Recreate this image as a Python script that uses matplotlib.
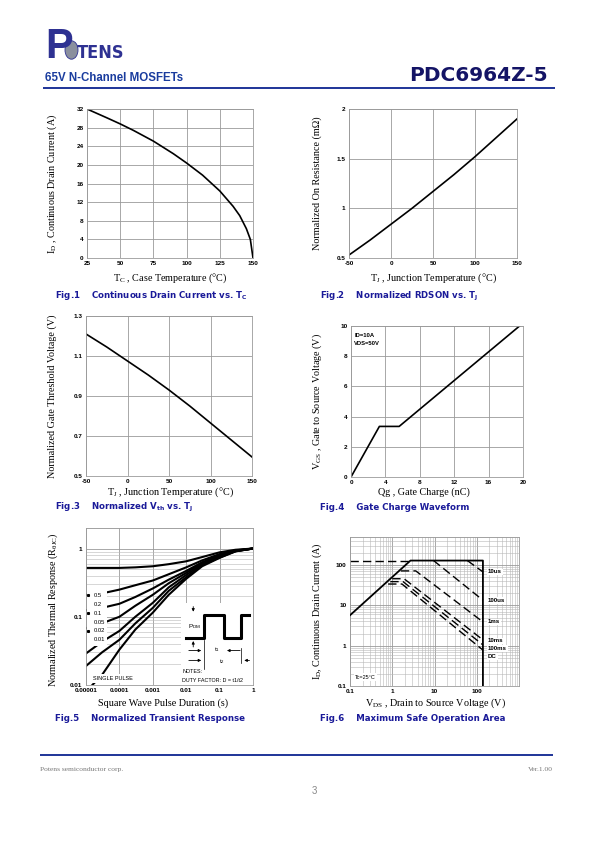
import matplotlib
matplotlib.use("Agg")
import matplotlib.pyplot as plt
from matplotlib.patches import Rectangle, Circle
from matplotlib.ticker import NullFormatter

W, H = 595, 842
NAVY = "#1c2a8c"
CAP = "#1a1a99"
GRID = "#9a9a9a"
SERIF = ["Liberation Serif", "DejaVu Serif"]
SANS = ["Liberation Sans", "DejaVu Sans"]
plt.rcParams["mathtext.default"] = "regular"

# Fig.1 continuous drain current vs case temperature
tc = [25, 40, 50, 60, 75, 90, 100, 112, 125, 135, 140, 145, 148, 150]
id_tc = [32, 30.1, 28.8, 27.4, 25.1, 22.4, 20.4, 17.8, 14.4, 11.1, 9.1, 6.3, 4.0, 0]

# Fig.2 normalized RDSON vs junction temperature
tj_r = [-50, -25, 0, 25, 50, 75, 100, 125, 150]
rdson = [0.53, 0.68, 0.84, 1.0, 1.17, 1.34, 1.52, 1.71, 1.9]

# Fig.3 normalized Vth vs junction temperature
tj_v = [-50, -25, 0, 25, 50, 75, 100, 125, 150]
vth = [1.21, 1.145, 1.075, 1.005, 0.93, 0.85, 0.765, 0.68, 0.595]

# Fig.4 gate charge waveform
qg = [0, 3.3, 5.6, 19.6]
vgs = [0, 3.35, 3.35, 10]

# Fig.5 normalized transient thermal response
t_pulse = [1e-5, 3e-5, 1e-4, 3e-4, 1e-3, 3e-3, 1e-2, 3e-2, 0.1, 0.3, 1]
zth = {
    "0.5": [0.52, 0.52, 0.52, 0.53, 0.55, 0.59, 0.65, 0.75, 0.88, 0.96, 1.0],
    "0.2": [0.21, 0.22, 0.25, 0.29, 0.34, 0.42, 0.53, 0.67, 0.83, 0.94, 1.0],
    "0.1": [0.125, 0.135, 0.155, 0.195, 0.26, 0.35, 0.47, 0.63, 0.80, 0.93, 1.0],
    "0.05": [0.068, 0.08, 0.10, 0.145, 0.21, 0.31, 0.44, 0.61, 0.78, 0.92, 1.0],
    "0.02": [0.029, 0.043, 0.062, 0.10, 0.16, 0.27, 0.41, 0.59, 0.76, 0.92, 1.0],
    "0.01": [0.019, 0.03, 0.046, 0.08, 0.135, 0.24, 0.38, 0.57, 0.74, 0.91, 1.0],
    "single": [0.008, 0.014, 0.033, 0.065, 0.115, 0.21, 0.36, 0.55, 0.73, 0.91, 1.0],
}
duty_labels = ["0.5", "0.2", "0.1", "0.05", "0.02", "0.01"]

# Fig.6 safe operating area
soa_limit_v = [0.1, 2.7, 140, 140]
soa_limit_i = [5.7, 130, 130, 0.1]
soa_dash_v = [0.1, 2.7]
soa_dash_i = [130, 130]
soa_pulses = {
    "10us": ([60, 140], [130, 68]),
    "100us": ([9.5, 140], [130, 13.5]),
    "1ms": ([1.6, 3.6, 140], [72, 72, 3.9]),
    "10ms": ([1.0, 1.9, 140], [46, 46, 1.4]),
    "100ms": ([0.9, 1.8, 140], [39, 39, 1.05]),
    "DC": ([0.8, 1.7, 140], [34, 34, 0.78]),
}
soa_label_y = {"10us": 68, "100us": 13.5, "1ms": 3.9, "10ms": 1.32, "100ms": 0.86, "DC": 0.53}

fig = plt.figure(figsize=(W / 100, H / 100), dpi=100)


def rect(l, t, r, b):
    return [l / W, 1 - b / H, (r - l) / W, (b - t) / H]


def ftext(x, y, s, **kw):
    return fig.text(x / W, 1 - y / H, s, **kw)


def style(ax, xt, yt, xl, yl, log=False):
    for sp in ax.spines.values():
        sp.set_color(GRID)
        sp.set_linewidth(0.6)
    ax.tick_params(length=0, pad=2.5)
    ax.set_xticks(xt)
    ax.set_yticks(yt)
    ax.set_xticklabels(xl, fontsize=4.6, fontweight="bold", family=SANS)
    ax.set_yticklabels(yl, fontsize=4.6, fontweight="bold", family=SANS)
    ax.grid(True, which="major", color=GRID, lw=0.6)
    if log:
        ax.tick_params(which="minor", length=0)
        ax.grid(True, which="minor", color="#b8b8b8", lw=0.4)
        ax.xaxis.set_minor_formatter(NullFormatter())
        ax.yaxis.set_minor_formatter(NullFormatter())
    ax.set_axisbelow(True)


def arrow(ax, x0, y0, x1, y1):
    ax.annotate("", xy=(x1, y1), xytext=(x0, y0),
                arrowprops=dict(arrowstyle="-|>", lw=0.6, color="black", mutation_scale=4))


# header
ftext(45, 58, "P", fontsize=30, fontweight="bold", color="#2e3192", family=SANS)
fig.patches.append(Circle((71.5 / W, 1 - 50 / H), 6.5 / W, transform=fig.transFigure,
                          facecolor="#8a8f9e", edgecolor="#2e3192", lw=0.6))
ftext(77, 58, "TENS", fontsize=13, fontweight="bold", color="#2e3192", family=["DejaVu Sans"],
      stretch="condensed")
ftext(45, 81, "65V N-Channel MOSFETs", fontsize=8.3, fontweight="bold", color="#1a3c9e", family=SANS)
ftext(548, 81, "PDC6964Z-5", fontsize=14.5, fontweight="bold", color="#141466", ha="right",
      family=["DejaVu Sans"])
fig.patches.append(Rectangle((43 / W, 1 - 89 / H), 512 / W, 2.5 / H, transform=fig.transFigure,
                             color="#24399a", lw=0))

# Fig.1
ax1 = fig.add_axes(rect(87, 109, 253, 258))
ax1.plot(tc, id_tc, color="black", lw=1.2)
ax1.set_xlim(25, 150)
ax1.set_ylim(0, 32)
style(ax1, range(25, 151, 25), range(0, 33, 4),
      [str(v) for v in range(25, 151, 25)], [str(v) for v in range(0, 33, 4)])
ftext(170, 281, "T$_C$ , Case Temperature (\u00b0C)", fontsize=7.3, family=SERIF, ha="center")
ftext(52, 184, "I$_D$ , Continuous Drain Current (A)", fontsize=7.3, family=SERIF,
      rotation=90, va="center", ha="center")
ftext(55, 298, "Fig.1    Continuous Drain Current vs. T$_C$", fontsize=6.2, fontweight="bold",
      color=CAP, family=["DejaVu Sans"])

# Fig.2
ax2 = fig.add_axes(rect(349, 109, 517, 258))
ax2.plot(tj_r, rdson, color="black", lw=1.2)
ax2.set_xlim(-50, 150)
ax2.set_ylim(0.5, 2)
style(ax2, [-50, 0, 50, 100, 150], [0.5, 1, 1.5, 2],
      ["-50", "0", "50", "100", "150"], ["0.5", "1", "1.5", "2"])
ftext(434, 281, "T$_J$ , Junction Temperature (\u00b0C)", fontsize=7.3, family=SERIF, ha="center")
ftext(317, 183, "Normalized On Resistance (m\u03a9)", fontsize=7.3, family=SERIF,
      rotation=90, va="center", ha="center")
ftext(320, 298, "Fig.2    Normalized RDSON vs. T$_J$", fontsize=6.2, fontweight="bold",
      color=CAP, family=["DejaVu Sans"])

# Fig.3
ax3 = fig.add_axes(rect(86, 316, 252, 476))
ax3.plot(tj_v, vth, color="black", lw=1.2)
ax3.set_xlim(-50, 150)
ax3.set_ylim(0.5, 1.3)
style(ax3, [-50, 0, 50, 100, 150], [0.5, 0.7, 0.9, 1.1, 1.3],
      ["-50", "0", "50", "100", "150"], ["0.5", "0.7", "0.9", "1.1", "1.3"])
ftext(171, 495, "T$_J$ , Junction Temperature (\u00b0C)", fontsize=7.3, family=SERIF, ha="center")
ftext(52, 396, "Normalized Gate Threshold Voltage (V)", fontsize=7.3, family=SERIF,
      rotation=90, va="center", ha="center")
ftext(55, 510, "Fig.3    Normalized V$_{th}$ vs. T$_J$", fontsize=6.2, fontweight="bold",
      color=CAP, family=["DejaVu Sans"])

# Fig.4
ax4 = fig.add_axes(rect(351, 326, 523, 477))
ax4.plot(qg, vgs, color="black", lw=1.2)
ax4.set_xlim(0, 20)
ax4.set_ylim(0, 10)
style(ax4, range(0, 21, 4), range(0, 11, 2),
      [str(v) for v in range(0, 21, 4)], [str(v) for v in range(0, 11, 2)])
ax4.text(0.02, 0.93, "ID=10A", transform=ax4.transAxes, fontsize=4.2, fontweight="bold", family=SANS)
ax4.text(0.02, 0.875, "VDS=50V", transform=ax4.transAxes, fontsize=4.2, fontweight="bold", family=SANS)
ftext(424, 495, "Qg , Gate Charge (nC)", fontsize=7.3, family=SERIF, ha="center")
ftext(317, 401, "V$_{GS}$ , Gate to Source Voltage (V)", fontsize=7.3, family=SERIF,
      rotation=90, va="center", ha="center")
ftext(320, 510, "Fig.4    Gate Charge Waveform", fontsize=6.2, fontweight="bold",
      color=CAP, family=["DejaVu Sans"])

# Fig.5
ax5 = fig.add_axes(rect(86, 528, 253, 685))
for key, vals in zth.items():
    ax5.plot(t_pulse, vals, color="black", lw=1.5)
ax5.set_xscale("log")
ax5.set_yscale("log")
ax5.set_xlim(1e-5, 1)
ax5.set_ylim(0.01, 2)
style(ax5, [1e-5, 1e-4, 1e-3, 1e-2, 0.1, 1], [0.01, 0.1, 1],
      ["0.00001", "0.0001", "0.001", "0.01", "0.1", "1"], ["0.01", "0.1", "1"], log=True)
ax5.text(0.04, 0.03, "SINGLE PULSE", transform=ax5.transAxes, fontsize=4, family=SANS,
         bbox=dict(facecolor="white", edgecolor="none", pad=1.5), zorder=5)
lg = fig.add_axes(rect(86.5, 590, 107, 646))
lg.set_xlim(0, 1)
lg.set_ylim(0, 1)
lg.axis("off")
lg.add_patch(Rectangle((0, 0), 1, 1, facecolor="white", edgecolor="none"))
for i, lab in enumerate(duty_labels):
    yy = 1 - (i + 0.6) / 6.3
    lg.text(0.33, yy, lab, fontsize=4.2, family=SANS, va="center")
    if i % 2 == 0:
        lg.plot([0.08], [yy], "s", color="black", ms=1.2)
ins = fig.add_axes(rect(181, 603, 253, 685))
ins.set_xlim(0, 1)
ins.set_ylim(0, 1)
ins.axis("off")
ins.add_patch(Rectangle((0, 0), 1, 1, facecolor="white", edgecolor="none"))
ins.plot([0.07, 0.32, 0.32, 0.6, 0.6, 0.83, 0.83, 0.95],
         [0.57, 0.57, 0.855, 0.855, 0.57, 0.57, 0.855, 0.855], color="black", lw=2.2)
arrow(ins, 0.17, 0.99, 0.17, 0.86)
arrow(ins, 0.17, 0.43, 0.17, 0.57)
ins.text(0.1, 0.71, "P$_{DM}$", fontsize=4.6, family=SANS, va="center")
ins.plot([0.32, 0.32], [0.2, 0.55], color="black", lw=0.5)
ins.plot([0.84, 0.84], [0.27, 0.45], color="black", lw=0.5)
arrow(ins, 0.07, 0.42, 0.32, 0.42)
arrow(ins, 0.86, 0.42, 0.6, 0.42)
arrow(ins, 0.07, 0.3, 0.32, 0.3)
arrow(ins, 0.99, 0.3, 0.84, 0.3)
ins.text(0.46, 0.43, "t$_1$", fontsize=4.4, family=SANS, va="center")
ins.text(0.53, 0.29, "t$_2$", fontsize=4.4, family=SANS, va="center")
ins.text(0.02, 0.16, "NOTES:", fontsize=3.9, family=SANS, va="center")
ins.text(0.02, 0.06, "DUTY FACTOR: D = t1/t2", fontsize=3.9, family=SANS, va="center")
ftext(163, 706, "Square Wave Pulse Duration (s)", fontsize=7.3, family=SERIF, ha="center")
ftext(53, 610, "Normalized Thermal Response (R$_{\u03b8JC}$)", fontsize=7.3, family=SERIF,
      rotation=90, va="center", ha="center")
ftext(55, 721, "Fig.5    Normalized Transient Response", fontsize=6.2, fontweight="bold",
      color=CAP, family=["DejaVu Sans"])

# Fig.6
ax6 = fig.add_axes(rect(350, 537, 519, 686))
ax6.plot(soa_limit_v, soa_limit_i, color="black", lw=1.3, zorder=4)
ax6.plot(soa_dash_v, soa_dash_i, color="black", lw=1.0, dashes=(6, 3))
for key, (vv, ii) in soa_pulses.items():
    ax6.plot(vv, ii, color="black", lw=1.0, dashes=(6, 3))
    ax6.text(185, soa_label_y[key], key, fontsize=4.4, fontweight="bold", family=SANS,
             va="center", bbox=dict(facecolor="white", edgecolor="none", pad=0.6))
ax6.set_xscale("log")
ax6.set_yscale("log")
ax6.set_xlim(0.1, 1000)
ax6.set_ylim(0.1, 500)
style(ax6, [0.1, 1, 10, 100], [0.1, 1, 10, 100],
      ["0.1", "1", "10", "100"], ["0.1", "1", "10", "100"], log=True)
ax6.text(0.03, 0.05, "Tc=25\u00b0C", transform=ax6.transAxes, fontsize=4, family=SANS,
         bbox=dict(facecolor="white", edgecolor="none", pad=0.8))
ftext(436, 706, "V$_{DS}$ , Drain to Source Voltage (V)", fontsize=7.3, family=SERIF, ha="center")
ftext(317, 611, "I$_D$, Continuous Drain Current (A)", fontsize=7.3, family=SERIF,
      rotation=90, va="center", ha="center")
ftext(320, 721, "Fig.6    Maximum Safe Operation Area", fontsize=6.2, fontweight="bold",
      color=CAP, family=["DejaVu Sans"])

# footer
fig.patches.append(Rectangle((40 / W, 1 - 756 / H), 513 / W, 2.2 / H, transform=fig.transFigure,
                             color="#24399a", lw=0))
ftext(40, 771, "Potens semiconductor corp.", fontsize=5.4, family=SERIF, color="#777777")
ftext(553, 771, "Ver.1.00", fontsize=5.4, family=SERIF, color="#777777", ha="right")
ftext(314, 794, "3", fontsize=7, family=SANS, color="#888888", ha="center")

fig.savefig("out.png", dpi=100)
